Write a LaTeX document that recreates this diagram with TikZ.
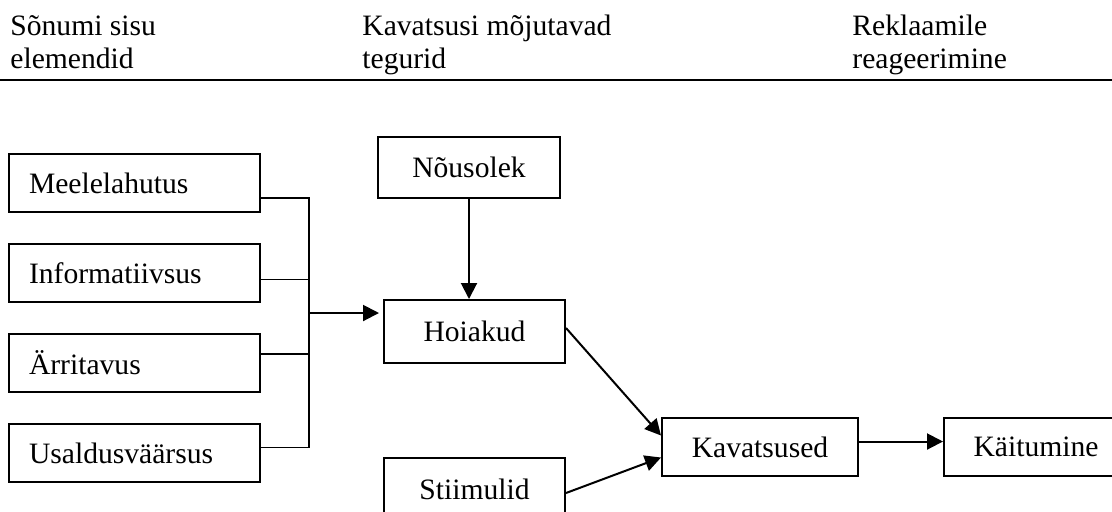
\documentclass[tikz,border=0pt]{standalone}
\usepackage{fontspec}
\setmainfont{Liberation Serif}
\usetikzlibrary{positioning,arrows.meta}
\tikzset{
  txt/.style={font=\fontsize{14.8}{16.5}\selectfont},
  box/.style={rectangle,draw=black,line width=1pt,inner sep=0pt,minimum height=29pt,txt},
  lbox/.style={box,text width=105.5pt,inner xsep=10pt,align=left},
  cbox/.style={box,minimum width=90.5pt,align=center},
  head/.style={txt,inner sep=0pt,align=left},
  joinline/.style={line width=0.65pt},
  arr/.style={line width=1pt,-{Triangle[length=8pt,width=8pt]}}
}
\begin{document}
\begin{tikzpicture}[x=0.5pt,y=-0.5pt]
            \useasboundingbox (0,0) rectangle (1112,511);
            \clip (0,0) rectangle (1112,511);

            % header
            \node[head,anchor=base west] (h1) at (10,68) {Sõnumi sisu\\elemendid};
            \node[head,anchor=base west] (h2) at (362,68) {Kavatsusi mõjutavad\\tegurid};
            \node[head,anchor=base west] (h3) at (852,68) {Reklaamile\\reageerimine};
            \coordinate (rl) at (0,80);
            \coordinate (rr) at (1112,80);
            \draw[line width=1pt] (rl) -- (rr);

            % message content
            \node[lbox,anchor=north west] (mee) at (8,153) {Meelelahutus};
            \node[lbox,below=15pt of mee] (inf) {Informatiivsus};
            \node[lbox,below=15pt of inf] (arr) {Ärritavus};
            \node[lbox,below=15pt of arr] (usa) {Usaldusväärsus};

            % factors
            \node[cbox,minimum width=91pt,minimum height=30.5pt,anchor=north west] (nou) at (377,136) {Nõusolek};
            \node[cbox,minimum height=31.5pt,anchor=north west] (hoi) at (383,299) {Hoiakud};
            \node[cbox,minimum height=31.5pt,below=46.5pt of hoi] (sti) {Stiimulid};

            % response
            \node[cbox,minimum width=98pt,anchor=north west] (kav) at (661,417) {Kavatsused};
            \node[cbox,minimum width=92pt,right=42pt of kav] (kai) {Käitumine};

            % joins
            \coordinate (jn) at (309,313);
            \draw[joinline] ([yshift=-7.5pt]mee.east) -| (jn);
            \draw[joinline] ([yshift=-3.25pt]inf.east) -| (jn);
            \draw[joinline] ([yshift=4.5pt]arr.east) -| (jn);
            \draw[joinline] ([yshift=2.75pt]usa.east) -| (jn);
            \draw[arr,shorten >=2pt] (jn) -- (hoi.west |- jn);

            \draw[arr] (nou.south) -- (nou.south |- hoi.north);
            \draw[arr] ([yshift=1.75pt]hoi.east) -- ([yshift=5.75pt]kav.west);
            \draw[arr] ([yshift=-1.75pt]sti.east) -- ([yshift=-5.25pt]kav.west);
            \draw[arr] ([yshift=2.75pt]kav.east) -- ([yshift=2.75pt]kai.west);

        \end{tikzpicture}
\end{document}
